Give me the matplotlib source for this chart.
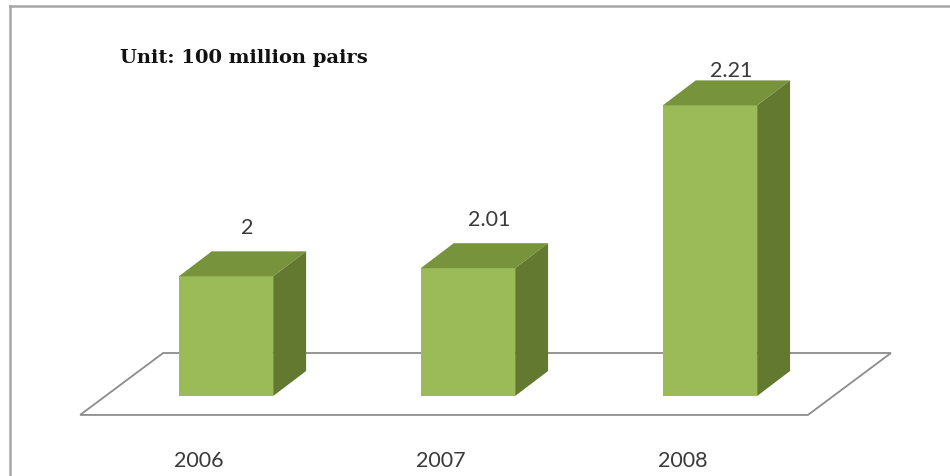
import matplotlib
matplotlib.use("Agg")
import matplotlib.pyplot as plt
from matplotlib.patches import Polygon
from matplotlib.lines import Line2D

# data
years = ["2006", "2007", "2008"]
values = [2.00, 2.01, 2.21]
value_labels = ["2", "2.01", "2.21"]
unit_text = "Unit: 100 million pairs"

# 3d look (category units in x, value units in y)
base = 1.853          # value where the bars stand
bar_w = 0.39
depth_dx, depth_dy = 0.136, 0.0307     # bar depth offset
floor_dx, floor_dy = 0.343, 0.0761     # floor depth offset
floor_front_y = base - 0.0233          # floor front edge
front_pos = 0.3                        # bar front sits 30% into the floor

front_c = "#9bbb59"
top_c = "#77933c"
side_c = "#62792f"

fig = plt.figure(figsize=(9.5, 4.77), dpi=100)
ax = fig.add_axes([0, 0, 1, 1])
ax.set_xlim(-0.934, 2.992)
ax.set_ylim(1.7547, 2.3407)
ax.axis("off")

# floor parallelogram
x0, x1 = -0.603, 2.405
floor = Polygon([(x0, floor_front_y), (x1, floor_front_y),
                 (x1 + floor_dx, floor_front_y + floor_dy),
                 (x0 + floor_dx, floor_front_y + floor_dy)],
                closed=True, facecolor="white", edgecolor="#8c8c8c", lw=1.3, zorder=1)
ax.add_patch(floor)

for i, v in enumerate(values):
    l = i - bar_w / 2
    r = i + bar_w / 2
    front = Polygon([(l, base), (r, base), (r, v), (l, v)], closed=True,
                    facecolor=front_c, edgecolor="none", zorder=3)
    top = Polygon([(l, v), (r, v), (r + depth_dx, v + depth_dy), (l + depth_dx, v + depth_dy)],
                  closed=True, facecolor=top_c, edgecolor="none", zorder=3)
    side = Polygon([(r, base), (r + depth_dx, base + depth_dy), (r + depth_dx, v + depth_dy), (r, v)],
                   closed=True, facecolor=side_c, edgecolor="none", zorder=3)
    for p in (front, top, side):
        ax.add_patch(p)
    # value label above the top face
    ly = min(v + depth_dy + 0.030, 2.254)
    ax.text(i + depth_dx / 2 + 0.02, ly, value_labels[i], ha="center", va="center",
            fontsize=15.5, color="#3a3a3a", family="Lato", zorder=4)
    # category label under the floor
    ax.text(i - front_pos * floor_dx - 0.01, 1.7745, years[i], ha="center", va="center",
            fontsize=15.5, color="#3a3a3a", family="Lato")

ax.text(-0.44, 2.27, unit_text, ha="left", va="center", fontsize=14,
        fontweight="bold", family="DejaVu Serif", color="#111111")

# outer chart frame (cut at right and bottom)
fig.add_artist(Line2D([9.5 / 950, 9.5 / 950], [0, 1 - 6.5 / 477],
                      transform=fig.transFigure, color="#a6a6a6", lw=1.8))
fig.add_artist(Line2D([9.5 / 950, 1], [1 - 6.5 / 477, 1 - 6.5 / 477],
                      transform=fig.transFigure, color="#a6a6a6", lw=1.8))

fig.savefig("out.png", dpi=100)
